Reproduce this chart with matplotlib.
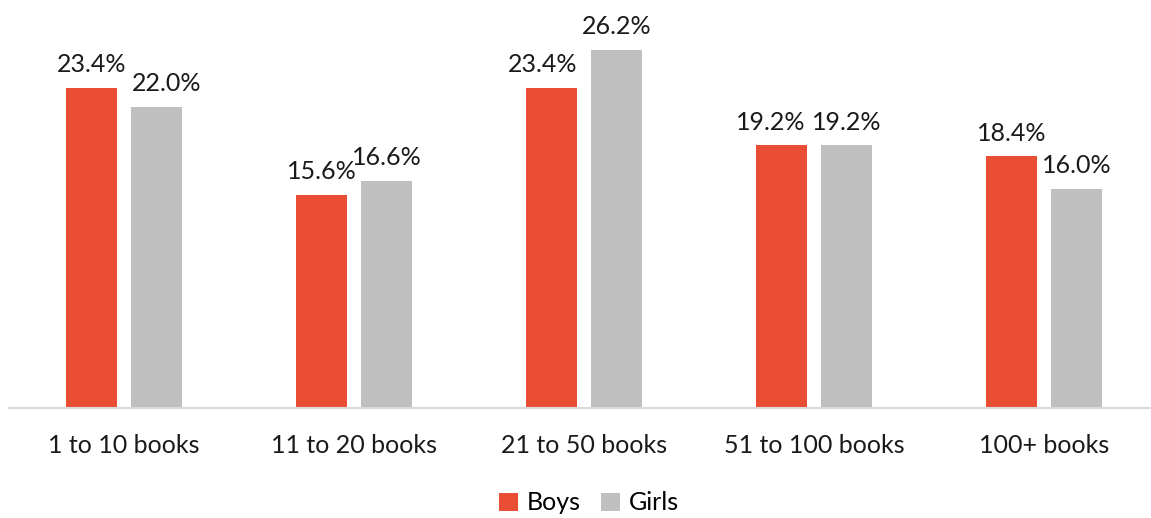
import matplotlib
matplotlib.use("Agg")
import matplotlib.pyplot as plt
import numpy as np

categories = ["1 to 10 books", "11 to 20 books", "21 to 50 books", "51 to 100 books", "100+ books"]
boys = [23.4, 15.6, 23.4, 19.2, 18.4]
girls = [22.0, 16.6, 26.2, 19.2, 16.0]

plt.rcParams['font.family'] = ['Lato', 'DejaVu Sans']

W, H = 1151, 518
fig = plt.figure(figsize=(W/100, H/100), dpi=100)
left, right = 9, 1159
base = 408
ppu = 13.68
ymax = 30.0
top = base - ymax * ppu
ax = fig.add_axes([left/W, 1 - base/H, (right-left)/W, (base-top)/H])

x = np.arange(len(categories))
bw = 0.222
off = 0.141
red = "#E94E35"
gray = "#BFBFBF"
fs = 18
b1 = ax.bar(x - off, boys, bw, color=red, label="Boys")
b2 = ax.bar(x + off, girls, bw, color=gray, label="Girls")

# horizontal nudges (points) for labels that collide with neighbours, as in the source
boy_nudge = [0, 0, -6.5, -7.5, 0]
girl_nudge = [7.5, 0, 0, 0, 0]
for bars, vals, nudge in ((b1, boys, boy_nudge), (b2, girls, girl_nudge)):
    for i, (r, v) in enumerate(zip(bars, vals)):
        ax.annotate(f"{v:.1f}%", (r.get_x() + r.get_width()/2, v + 0.85), xytext=(nudge[i], 0),
                    textcoords="offset points", ha="center", va="bottom", fontsize=fs, color="#1a1a1a")

ax.set_xlim(-0.5, len(categories) - 0.5)
ax.set_ylim(0, ymax)
ax.set_xticks(x)
ax.set_xticklabels(categories, fontsize=fs, color="#1a1a1a")
ax.tick_params(axis="x", length=0, pad=19)
ax.set_yticks([])
for s in ["top", "right", "left"]:
    ax.spines[s].set_visible(False)
ax.spines["bottom"].set_color("#D9D9D9")
ax.spines["bottom"].set_linewidth(1.5)

fig.legend(handles=[b1, b2], labels=["Boys", "Girls"], loc="center", bbox_to_anchor=(589/W, 1 - 503/H),
           ncol=2, frameon=False, fontsize=fs, handlelength=0.75, handleheight=0.75,
           handletextpad=0.35, columnspacing=0.8)

fig.savefig("out.png", dpi=100)
